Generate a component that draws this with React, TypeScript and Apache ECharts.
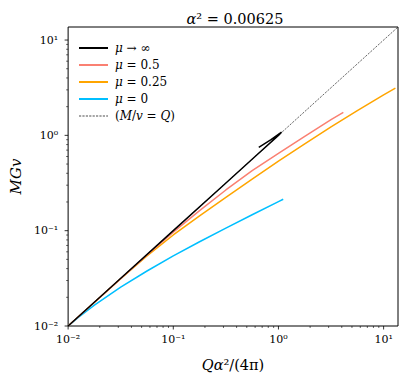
import React, { useEffect, useRef } from "react";
import * as echarts from "echarts";

// ---- data (x = Qα²/(4π), y = MGv) ----
const MU_INF: [number, number][] = [
  [0.01, 0.01], [0.03, 0.03], [0.1, 0.1], [0.3, 0.3], [0.6, 0.6], [1.0, 1.0],
  [1.07, 1.08], [0.85, 0.9], [0.65, 0.75],
];
const MU_05: [number, number][] = [
  [0.01, 0.01], [0.05623, 0.05559], [0.1, 0.09661], [0.1778, 0.1622], [0.3162, 0.2673],
  [0.5623, 0.4266], [1.0, 0.6457], [1.778, 0.9772], [3.162, 1.462], [4.14, 1.746],
];
const MU_025: [number, number][] = [
  [0.01, 0.01], [0.03162, 0.03133], [0.05623, 0.05433], [0.1, 0.09016], [0.1778, 0.1429],
  [0.3162, 0.2239], [0.5623, 0.3467], [1.0, 0.537], [1.778, 0.8128], [3.162, 1.23],
  [5.623, 1.82], [10, 2.661], [12.94, 3.126],
];
const MU_0: [number, number][] = [
  [0.01, 0.01], [0.01259, 0.01236], [0.01778, 0.01652], [0.03162, 0.02553],
  [0.05623, 0.03776], [0.1, 0.0544], [0.1778, 0.0765], [0.3162, 0.1062],
  [0.5623, 0.1468], [1.0, 0.2015], [1.11, 0.2135],
];
const REF_LINE: [number, number][] = [[0.01, 0.01], [13.7, 13.7]];

const LEGEND_LABELS: Record<string, string> = {
  inf: "{i|μ} → ∞",
  "0.5": "{i|μ} = 0.5",
  "0.25": "{i|μ} = 0.25",
  "0": "{i|μ} = 0",
  ref: "({i|M}/{i|v} = {i|Q})",
};

const AXIS_MIN = 0.01;
const X_MAX = 13.7;
const Y_MAX = 13.7;
const X_MAJOR = [0.01, 0.1, 1, 10];
const X_MINOR = [0.02, 0.03, 0.04, 0.05, 0.06, 0.07, 0.08, 0.09, 0.2, 0.3, 0.4, 0.5, 0.6, 0.7, 0.8, 0.9, 2, 3, 4, 5, 6, 7, 8, 9];
const Y_MAJOR = [0.01, 0.1, 1, 10];
const Y_MINOR = [0.02, 0.03, 0.04, 0.05, 0.06, 0.07, 0.08, 0.09, 0.2, 0.3, 0.4, 0.5, 0.6, 0.7, 0.8, 0.9, 2, 3, 4, 5, 6, 7, 8, 9];
const TICK_LABELS: Record<string, string> = { "-2": "10⁻²", "-1": "10⁻¹", "0": "10⁰", "1": "10¹" };

const FONT = "DejaVu Serif";

function powLabel(v: number): string {
  const l = Math.log10(v);
  const e = Math.round(l);
  if (Math.abs(l - e) > 1e-6) return "";
  return TICK_LABELS[String(e)] ?? "";
}

export default function App() {
  const ref = useRef<HTMLDivElement>(null);
  useEffect(() => {
    if (!ref.current) return;
    const chart = echarts.init(ref.current, undefined, { renderer: "svg" });
    const tickData: number[][] = [
      ...X_MAJOR.map((v) => [v, AXIS_MIN, 0, 1]),
      ...X_MINOR.map((v) => [v, AXIS_MIN, 0, 0]),
      ...Y_MAJOR.map((v) => [AXIS_MIN, v, 1, 1]),
      ...Y_MINOR.map((v) => [AXIS_MIN, v, 1, 0]),
    ];
    const italic = { fontStyle: "italic", fontFamily: FONT, color: "#000" };
    chart.setOption({
      animation: false,
      backgroundColor: "#fff",
      textStyle: { fontFamily: FONT },
      title: {
        text: "{i|α}{n|² = 0.00625}",
        left: 230,
        top: 6,
        textAlign: "center",
        textStyle: {
          fontFamily: FONT, fontSize: 14.5, fontWeight: "normal", color: "#000",
          rich: { i: { ...italic, fontSize: 14.5 }, n: { fontFamily: FONT, fontSize: 14.5, color: "#000" } },
        },
      },
      grid: {
        left: 63, right: 9, top: 27, bottom: 52,
        show: true, borderColor: "#000", borderWidth: 1, backgroundColor: "transparent",
      },
      legend: {
        data: [
          { name: "inf" }, { name: "0.5" }, { name: "0.25" }, { name: "0" },
          { name: "ref", lineStyle: { width: 0.7 } },
        ],
        orient: "vertical",
        left: 73,
        top: 37,
        itemWidth: 29,
        itemHeight: 10,
        itemGap: 5,
        itemStyle: { opacity: 0 },
        formatter: (name: string) => LEGEND_LABELS[name],
        textStyle: {
          fontFamily: FONT, fontSize: 12, color: "#000", padding: [0, 0, 0, 2],
          rich: { i: { ...italic, fontSize: 12 } },
        },
      },
      xAxis: {
        type: "log",
        logBase: 10,
        min: AXIS_MIN,
        max: X_MAX,
        name: "{i|Qα}²/(4π)",
        nameLocation: "middle",
        nameGap: 31,
        nameTextStyle: {
          fontFamily: FONT, fontSize: 14.5, color: "#000",
          rich: { i: { ...italic, fontSize: 14.5 } },
        },
        axisLine: { show: false },
        axisTick: { show: false },
        splitLine: { show: false },
        minorTick: { show: false },
        axisLabel: {
          formatter: powLabel, fontFamily: FONT, fontSize: 11, color: "#000", margin: 8,
          showMinLabel: true, showMaxLabel: false,
        },
      },
      yAxis: {
        type: "log",
        logBase: 10,
        min: AXIS_MIN,
        max: Y_MAX,
        name: "{i|MGv}",
        nameLocation: "middle",
        nameGap: 42,
        nameTextStyle: {
          fontFamily: FONT, fontSize: 15, color: "#000",
          rich: { i: { ...italic, fontSize: 15 } },
        },
        axisLine: { show: false },
        axisTick: { show: false },
        splitLine: { show: false },
        axisLabel: {
          formatter: powLabel, fontFamily: FONT, fontSize: 11, color: "#000", margin: 10,
          showMinLabel: true, showMaxLabel: false,
        },
      },
      series: [
        {
          name: "inf", type: "line", data: MU_INF, symbol: "none",
          lineStyle: { color: "#000000", width: 1.5 }, itemStyle: { color: "#000000" }, z: 5,
        },
        {
          name: "0.5", type: "line", data: MU_05, symbol: "none",
          lineStyle: { color: "#fa8072", width: 1.5 }, itemStyle: { color: "#fa8072" }, z: 4,
        },
        {
          name: "0.25", type: "line", data: MU_025, symbol: "none",
          lineStyle: { color: "#ffa500", width: 1.5 }, itemStyle: { color: "#ffa500" }, z: 3,
        },
        {
          name: "0", type: "line", data: MU_0, symbol: "none",
          lineStyle: { color: "#00bfff", width: 1.5 }, itemStyle: { color: "#00bfff" }, z: 3,
        },
        {
          name: "ref", type: "line", data: REF_LINE, symbol: "none",
          lineStyle: { color: "#000", width: 0.6, type: [2.2, 1.2] }, itemStyle: { color: "#000" }, z: 2,
        },
        {
          type: "custom",
          silent: true,
          clip: false,
          data: tickData,
          encode: { x: 0, y: 1 },
          renderItem: (params: any, api: any) => {
            const p = api.coord([api.value(0), api.value(1)]);
            const major = api.value(3) === 1;
            const len = major ? 3.5 : 2;
            const style = { stroke: "#000", lineWidth: major ? 0.8 : 0.6 };
            if (api.value(2) === 0) {
              return { type: "line", shape: { x1: p[0], y1: p[1], x2: p[0], y2: p[1] + len }, style };
            }
            return { type: "line", shape: { x1: p[0] - len, y1: p[1], x2: p[0], y2: p[1] }, style };
          },
          z: 10,
        },
      ],
    });
    return () => chart.dispose();
  }, []);
  return (
    <div
      ref={ref}
      style={{ position: "fixed", left: 0, top: 0, width: 407, height: 378, background: "#fff" }}
    />
  );
}
